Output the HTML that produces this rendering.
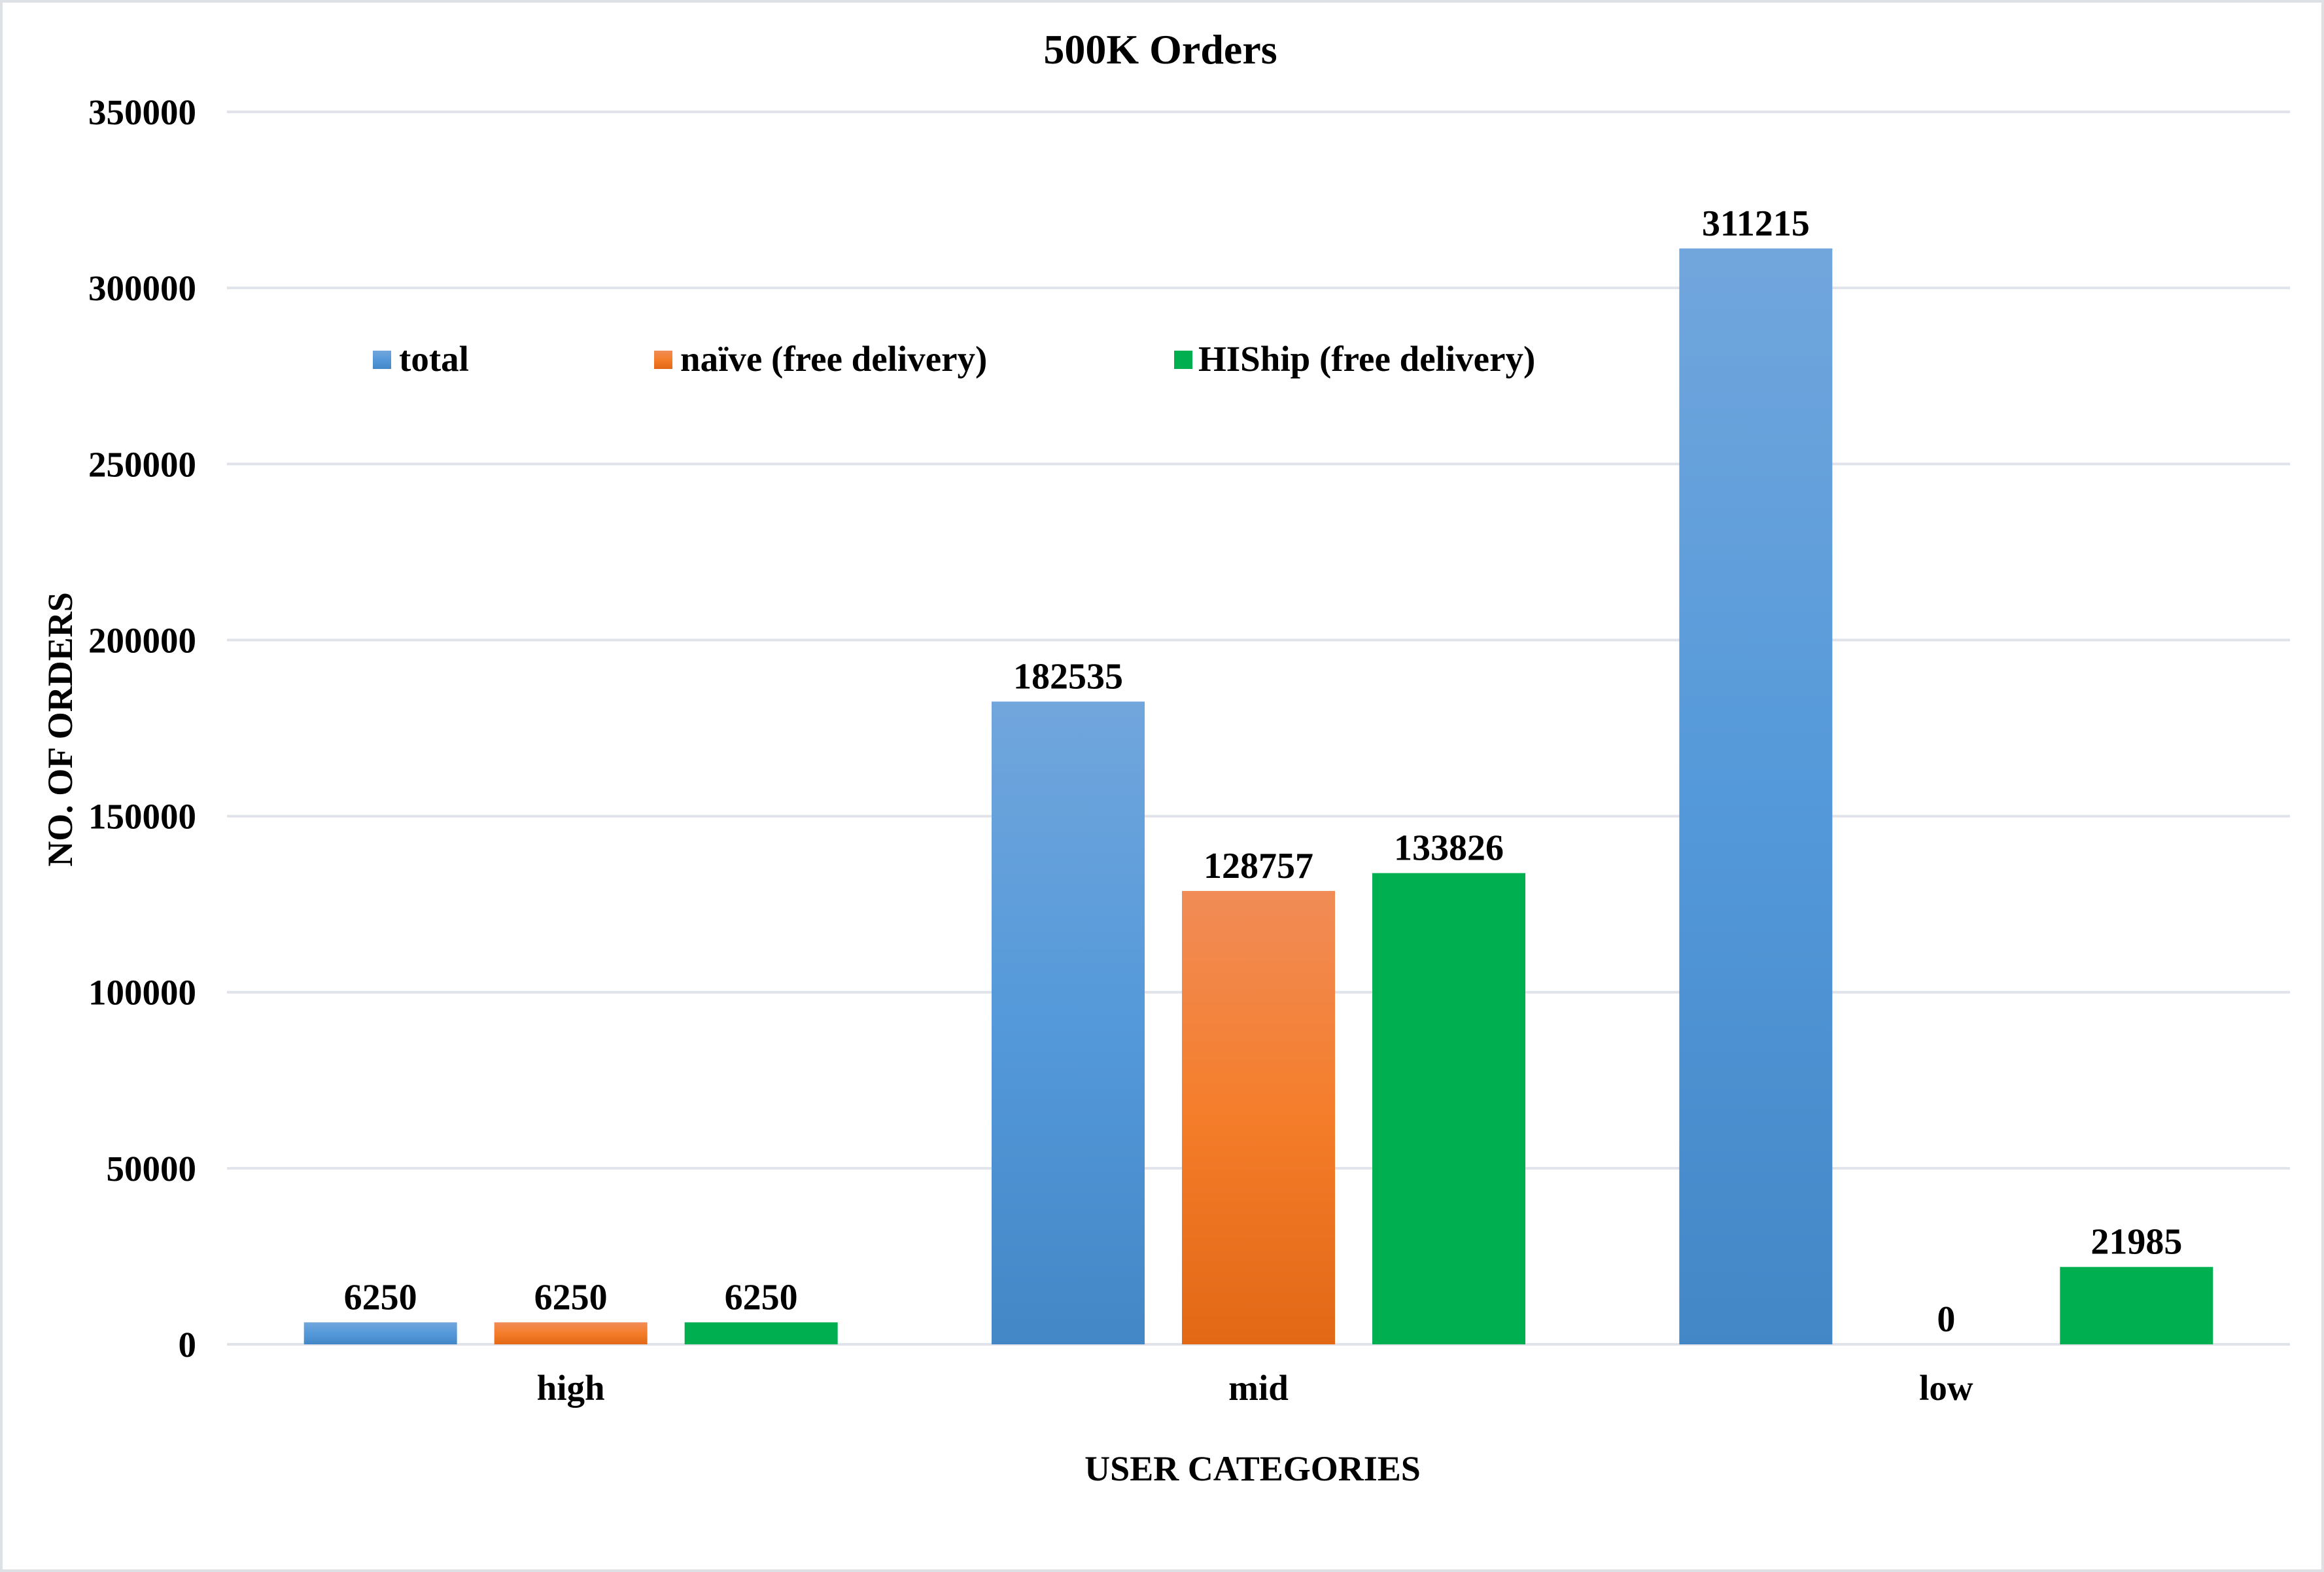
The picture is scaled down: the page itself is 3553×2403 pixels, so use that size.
<!DOCTYPE html>
<html><head><meta charset="utf-8"><style>
html,body{margin:0;padding:0;background:#fff}
svg{display:block}
text{font-family:"Liberation Serif",serif;font-weight:bold;fill:#000}
</style></head><body>
<svg id="chart" width="3553" height="2403" viewBox="0 0 3553 2403" xmlns="http://www.w3.org/2000/svg">
<defs>
<linearGradient id="gBlue" x1="0" y1="0" x2="0" y2="1"><stop offset="0" stop-color="#71a6dc"/><stop offset="0.5" stop-color="#5499da"/><stop offset="1" stop-color="#4487c7"/></linearGradient>
<linearGradient id="gOrange" x1="0" y1="0" x2="0" y2="1"><stop offset="0" stop-color="#f18c57"/><stop offset="0.5" stop-color="#f47d2a"/><stop offset="1" stop-color="#e26816"/></linearGradient>
</defs>
<rect x="2" y="2" width="3549" height="2399" fill="#fff" stroke="#dde1e6" stroke-width="4"/>
<text x="1774" y="97" font-size="64" text-anchor="middle">500K Orders</text>
<g id="grid"></g>
<g id="bars"></g>
<g id="labels"></g>
<text transform="translate(110,1115) rotate(-90)" font-size="54" text-anchor="middle">NO. OF ORDERS</text>
<text x="1915" y="2263" font-size="54" text-anchor="middle">USER CATEGORIES</text>
<g>
<g><rect x="570" y="536" width="28" height="28" fill="url(#gBlue)"/><text x="610" y="567" font-size="55">total</text></g>
<g><rect x="1000" y="536" width="28" height="28" fill="url(#gOrange)"/><text x="1040" y="567" font-size="55">naïve (free delivery)</text></g>
<g><rect x="1795" y="536" width="28" height="28" fill="#00b050"/><text x="1832" y="567" font-size="55">HIShip (free delivery)</text></g>
</g>
</svg>
<script>
const categories = ["high", "mid", "low"];
const totalValues = [6250, 182535, 311215];
const naiveValues = [6250, 128757, 0];
const hishipValues = [6250, 133826, 21985];
const yTicks = [0, 50000, 100000, 150000, 200000, 250000, 300000, 350000];

const NS = "http://www.w3.org/2000/svg";
const X0 = 347, X1 = 3501, Y0 = 2055, YTOP = 171, YMAX = 350000;
const yScale = v => Y0 - v / YMAX * (Y0 - YTOP);
const groupW = (X1 - X0) / categories.length;
const xCenter = i => X0 + groupW * (i + 0.5);
const BW = 234, STEP = 291;

function mk(tag, attrs, parent) {
  const el = document.createElementNS(NS, tag);
  for (const k in attrs) el.setAttribute(k, attrs[k]);
  parent.appendChild(el);
  return el;
}
const grid = document.getElementById('grid');
const bars = document.getElementById('bars');
const labels = document.getElementById('labels');

yTicks.forEach(t => {
  const y = yScale(t);
  const ln = mk('line', {x1: X0, x2: X1, y1: y, y2: y, stroke: '#e0e4ea', 'stroke-width': 4}, grid);
  
  
  const tx = mk('text', {x: 300, y: y + 19, 'font-size': 55, 'text-anchor': 'end'}, grid);
  tx.textContent = String(t);
  
  
});

const series = [
  {name: 'total', vals: totalValues, fill: 'url(#gBlue)'},
  {name: 'naive', vals: naiveValues, fill: 'url(#gOrange)'},
  {name: 'hiship', vals: hishipValues, fill: '#00b050'}
];
categories.forEach((c, i) => {
  const cx = xCenter(i);
  series.forEach((s, j) => {
    const bx = cx + (j - 1) * STEP - BW / 2;
    const v = s.vals[i];
    const top = yScale(v);
    const r = mk('rect', {x: bx, y: top, width: BW, height: Math.max(0, Y0 - top), fill: s.fill}, bars);
    
    
    const t = mk('text', {x: bx + BW / 2, y: top - 20, 'font-size': 56, 'text-anchor': 'middle'}, labels);
    t.textContent = String(v);
    
    
  });
  const cl = mk('text', {x: cx, y: 2140, 'font-size': 55, 'text-anchor': 'middle'}, labels);
  cl.textContent = c;
  
  
});
</script>
</body></html>
